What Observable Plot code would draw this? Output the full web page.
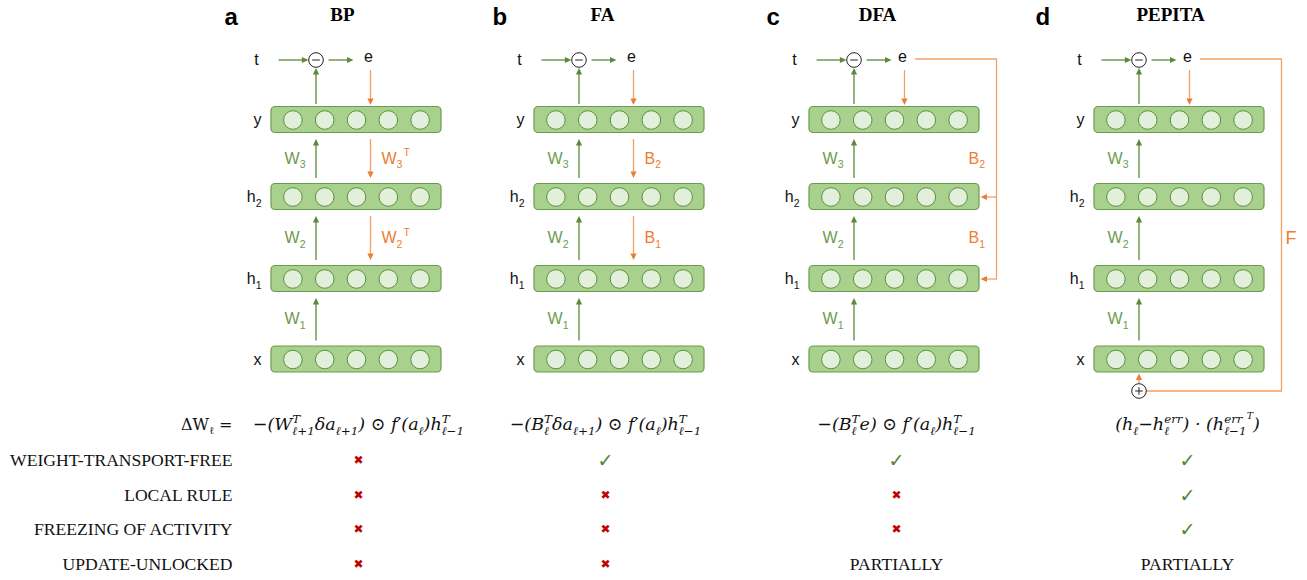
<!DOCTYPE html>
<html>
<head>
<meta charset="utf-8">
<script src="https://cdn.jsdelivr.net/npm/d3@7"></script>
<script src="https://cdn.jsdelivr.net/npm/@observablehq/plot@0.6"></script>
<style>
  html, body { margin: 0; padding: 0; background: #fff; }
  #chart svg { display: block; }
</style>
</head>
<body>
<div id="chart"></div>
<script>
// ---------------- data ----------------
const methods = ["BP", "FA", "DFA", "PEPITA"];
const panelLetters = ["a", "b", "c", "d"];
const layerNames = ["x", "h_{1}", "h_{2}", "y"];
const neuronsPerLayer = [1, 2, 3, 4, 5];
const forwardLabels = ["W_{1}", "W_{2}", "W_{3}"];
const bpBackward = [null, "W_{2}^{T}", "W_{3}^{T}"];
const faBackward = [null, "B_{1}", "B_{2}"];
const dfaBackward = [null, "B_{1}", "B_{2}"];
const pepitaFeedback = ["F"];
const targetLabel = "t";
const errorLabel = "e";
const updateLabel = "ΔW_{ℓ} =";
const updateRules = [
  "−(W_{ℓ+1}^{T}δa_{ℓ+1}) ⊙ f′(a_{ℓ})h_{ℓ−1}^{T}",
  "−(B_{ℓ}^{T}δa_{ℓ+1}) ⊙ f′(a_{ℓ})h_{ℓ−1}^{T}",
  "−(B_{ℓ}^{T}e) ⊙ f′(a_{ℓ})h_{ℓ−1}^{T}",
  "(h_{ℓ}−h_{ℓ}^{err}) · (h_{ℓ−1}^{err}^^{T})"
];
const properties = ["WEIGHT-TRANSPORT-FREE", "LOCAL RULE", "FREEZING OF ACTIVITY", "UPDATE-UNLOCKED"];
const bpSupport = ["no", "no", "no", "no"];
const faSupport = ["yes", "no", "no", "no"];
const dfaSupport = ["yes", "no", "no", "PARTIALLY"];
const pepitaSupport = ["yes", "yes", "yes", "PARTIALLY"];

// ---------------- layout ----------------
const W = 1307, H = 580;
const panelLeft = [271, 534, 809, 1094];
const letterX = [224, 492, 766, 1035];
const titleX = [342, 602, 877, 1170];
const tableX = [358, 605, 896, 1187];
const eOffset = [99, 99, 95, 95];
const boxW = 170, boxH = 26;
const layerY = [359, 278.5, 196.5, 119.5];
const topY = 59.5;
const opX = 44.5;
const neuronStep = 31.8;
const formulaY = 424;
const rowY = [460, 495, 529, 564];
const dfaRailX = 996;
const pepRailX = 1281;
const plusY = 390.5;

const GREEN = "#5a8a3c", GREEN_TXT = "#6d9a4e", ORANGE = "#ed7d31", ORANGE_LINE = "#f3a065";
const supports = [bpSupport, faSupport, dfaSupport, pepitaSupport];
const backwards = [bpBackward, faBackward, dfaBackward, null];

// ---------------- derived geometry ----------------
const boxes = [], neurons = [], layerLbl = [], arrows = [], wLbl = [], oLbl = [];
methods.forEach((m, p) => {
  const L = panelLeft[p], cx = L + boxW / 2, eX = L + eOffset[p];
  layerNames.forEach((name, k) => {
    boxes.push({x1: L, x2: L + boxW, y1: layerY[k] - boxH / 2, y2: layerY[k] + boxH / 2});
    neuronsPerLayer.forEach((n, i) => neurons.push({x: cx + (i - 2) * neuronStep, y: layerY[k]}));
    layerLbl.push({x: L - 10, y: layerY[k], text: name});
  });
  const top = k => layerY[k] - boxH / 2, bot = k => layerY[k] + boxH / 2;
  arrows.push({x1: L + 7, y1: topY, x2: L + opX - 7.6, y2: topY, color: GREEN, dir: "right"});
  arrows.push({x1: L + opX + 12.5, y1: topY, x2: L + 82, y2: topY, color: GREEN, dir: "right"});
  arrows.push({x1: L + opX, y1: top(3) - 3, x2: L + opX, y2: topY + 8, color: GREEN, dir: "up"});
  arrows.push({x1: eX, y1: topY + 10, x2: eX, y2: top(3) - 2, color: ORANGE_LINE, dir: "down"});
  forwardLabels.forEach((w, k) => {
    arrows.push({x1: L + opX, y1: top(k) - 6, x2: L + opX, y2: bot(k + 1) + 6, color: GREEN, dir: "up"});
    wLbl.push({x: L + 34, y: (top(k) + bot(k + 1)) / 2, text: w});
  });
  const bw = backwards[p];
  if (p < 2) {
    [1, 2].forEach(k => {
      arrows.push({x1: eX, y1: bot(k + 1) + 6, x2: eX, y2: top(k) - 6, color: ORANGE_LINE, dir: "down"});
      oLbl.push({x: eX + 11, y: (top(k) + bot(k + 1)) / 2, text: bw[k]});
    });
  } else if (p === 2) {
    [1, 2].forEach(k => {
      arrows.push({x1: dfaRailX, y1: layerY[k], x2: L + boxW + 1, y2: layerY[k], color: ORANGE_LINE, dir: "left"});
      oLbl.push({x: L + 159, y: (top(k) + bot(k + 1)) / 2, text: bw[k]});
    });
  } else {
    arrows.push({x1: L + opX, y1: plusY - 7.5, x2: L + opX, y2: bot(0) + 1, color: ORANGE_LINE, dir: "up"});
    oLbl.push({x: pepRailX + 4, y: (top(1) + bot(2)) / 2 + 0.5, text: pepitaFeedback[0], size: 18});
  }
});

const dfaL = panelLeft[2], pepL = panelLeft[3];
const rails = [
  {x: dfaL + eOffset[2] + 11, y: topY - 1, g: "dfa"}, {x: dfaRailX, y: topY - 1, g: "dfa"}, {x: dfaRailX, y: layerY[1], g: "dfa"},
  {x: pepL + eOffset[3] + 11, y: topY - 1, g: "pep"}, {x: pepRailX, y: topY - 1, g: "pep"},
  {x: pepRailX, y: plusY, g: "pep"}, {x: pepL + opX + 7.3, y: plusY, g: "pep"}
];

const nodes = methods.map((m, p) => ({x: panelLeft[p] + opX, y: topY, kind: "minus"}))
  .concat([{x: pepL + opX, y: plusY, kind: "plus"}]);
const nodeBars = [];
nodes.forEach(n => {
  nodeBars.push({x1: n.x - 3.8, y1: n.y, x2: n.x + 3.8, y2: n.y});
  if (n.kind === "plus") nodeBars.push({x1: n.x, y1: n.y - 3.8, x2: n.x, y2: n.y + 3.8});
});

const shaftEnd = a => {
  const s = 4;
  return a.dir === "up" ? [a.x2, a.y2 + s] : a.dir === "down" ? [a.x2, a.y2 - s]
       : a.dir === "left" ? [a.x2 + s, a.y2] : [a.x2 - s, a.y2];
};
const heads = {
  up:    {draw(c) { c.moveTo(0, 0); c.lineTo(3.1, 6.5); c.lineTo(-3.1, 6.5); c.closePath(); }},
  down:  {draw(c) { c.moveTo(0, 0); c.lineTo(3.1, -6.5); c.lineTo(-3.1, -6.5); c.closePath(); }},
  left:  {draw(c) { c.moveTo(0, 0); c.lineTo(6.5, 3.1); c.lineTo(6.5, -3.1); c.closePath(); }},
  right: {draw(c) { c.moveTo(0, 0); c.lineTo(-6.5, 3.1); c.lineTo(-6.5, -3.1); c.closePath(); }}
};
const headColor = c => c === ORANGE_LINE ? ORANGE : c;

const topTexts = [];
methods.forEach((m, p) => {
  topTexts.push({x: panelLeft[p] - 15, y: topY, text: targetLabel});
  topTexts.push({x: panelLeft[p] + eOffset[p] - 2, y: topY - 3, text: errorLabel});
});

const table = [];
supports.forEach((col, p) => col.forEach((v, r) => table.push({x: tableX[p], y: rowY[r], v})));

// ---------------- plot ----------------
const marks = [
  Plot.rect(boxes, {x1: "x1", x2: "x2", y1: "y1", y2: "y2", fill: "#a9d18e", stroke: "#6b9b4d", strokeWidth: 1.2, rx: 4}),
  Plot.dot(neurons, {x: "x", y: "y", r: 9.3, fill: "#e2efda", stroke: "#5f8f41", strokeWidth: 1}),
  Plot.line(rails, {x: "x", y: "y", z: "g", stroke: ORANGE_LINE, strokeWidth: 1.3}),
  Plot.link(arrows, {x1: "x1", y1: "y1", x2: d => shaftEnd(d)[0], y2: d => shaftEnd(d)[1], stroke: "color", strokeWidth: 1.3}),
  ...Object.keys(heads).map(dir => Plot.dot(arrows.filter(a => a.dir === dir), {
    x: "x2", y: "y2", symbol: heads[dir], r: 3, fill: d => headColor(d.color), stroke: "none"
  })),
  Plot.dot(nodes, {x: "x", y: "y", r: 7.3, fill: "white", stroke: "#222", strokeWidth: 1}),
  Plot.link(nodeBars, {x1: "x1", y1: "y1", x2: "x2", y2: "y2", stroke: "#222", strokeWidth: 1}),
  Plot.text(panelLetters, {x: (d, i) => letterX[i], y: () => 17, text: d => d, textAnchor: "start",
    fontFamily: "Liberation Sans", fontWeight: "bold", fontSize: 24, fill: "#000"}),
  Plot.text(methods, {x: (d, i) => titleX[i], y: () => 14, text: d => d,
    fontFamily: "Liberation Serif", fontWeight: "bold", fontSize: 19, fill: "#000"}),
  Plot.text(layerLbl, {x: "x", y: "y", text: "text", textAnchor: "end",
    fontFamily: "Liberation Sans", fontSize: 16, fill: "#111"}),
  Plot.text(topTexts, {x: "x", y: "y", text: "text",
    fontFamily: "Liberation Sans", fontSize: 16, fill: "#111"}),
  Plot.text(wLbl, {x: "x", y: "y", text: "text", textAnchor: "end",
    fontFamily: "Liberation Sans", fontSize: 16, fill: GREEN_TXT}),
  Plot.text(oLbl.filter(d => !d.size), {x: "x", y: "y", text: "text", textAnchor: "start",
    fontFamily: "Liberation Sans", fontSize: 16, fill: ORANGE}),
  Plot.text(oLbl.filter(d => d.size), {x: "x", y: "y", text: "text", textAnchor: "start",
    fontFamily: "Liberation Sans", fontSize: 18, fill: ORANGE}),
  Plot.text([updateLabel], {x: () => 232, y: () => formulaY, text: d => d, textAnchor: "end",
    fontFamily: "DejaVu Serif", fontSize: 16, fill: "#111"}),
  Plot.text(updateRules, {x: (d, i) => tableX[i], y: () => formulaY, text: d => d,
    fontFamily: "DejaVu Serif", fontStyle: "italic", fontSize: 17.5, fill: "#111"}),
  Plot.text(properties, {x: () => 232, y: (d, i) => rowY[i], text: d => d, textAnchor: "end",
    fontFamily: "Liberation Serif", fontSize: 17.6, fill: "#111"}),
  Plot.text(table.filter(d => d.v === "no"), {x: "x", y: "y", text: () => "✖",
    fontFamily: "DejaVu Sans", fontSize: 12, fill: "#c00000"}),
  Plot.text(table.filter(d => d.v === "yes"), {x: "x", y: "y", text: () => "✓",
    fontFamily: "DejaVu Sans", fontSize: 19, fill: "#548235"}),
  Plot.text(table.filter(d => d.v !== "yes" && d.v !== "no"), {x: "x", y: "y", text: "v",
    fontFamily: "Liberation Serif", fontSize: 17.6, fill: "#111"})
];

const chart = Plot.plot({
  width: W, height: H,
  margin: 0,
  x: {domain: [0, W], range: [0, W], axis: null},
  y: {domain: [0, H], range: [0, H], axis: null},
  color: {type: "identity"},
  style: {background: "#fff", overflow: "visible"},
  marks
});
document.getElementById("chart").appendChild(chart);

// rich text: _{sub} ^{sup} ^^{sup2}; sub/sup stacked only in italic (math) text
const NS = "http://www.w3.org/2000/svg";
function richify(el) {
  const src = el.textContent;
  if (!/[_^]\{/.test(src)) return;
  const cs = getComputedStyle(el);
  const fs = parseFloat(cs.fontSize) || 16;
  const math = cs.fontStyle === "italic";
  const parts = src.split(/(\^\^\{[^}]*\}|_\{[^}]*\}|\^\{[^}]*\})/).filter(s => s !== "");
  el.textContent = "";
  let cur = 0, prev = null, pending = 0;
  for (const p of parts) {
    let type = "n", s = p;
    if (p.startsWith("^^{")) { type = "sup2"; s = p.slice(3, -1); }
    else if (p.startsWith("_{")) { type = "sub"; s = p.slice(2, -1); }
    else if (p.startsWith("^{")) { type = "sup"; s = p.slice(2, -1); }
    const shift = type === "sub" ? 0.3 * fs : type === "sup" ? (math ? -0.42 : -0.45) * fs : type === "sup2" ? -0.62 * fs : 0;
    const size = type === "n" ? fs : type === "sup2" ? 0.55 * fs : (math ? 0.68 : 0.66) * fs;
    const t = document.createElementNS(NS, "tspan");
    t.textContent = s;
    t.setAttribute("font-size", size);
    t.setAttribute("dy", shift - cur);
    cur = shift;
    const stacked = math && prev && ((prev.type === "sub" && type === "sup") || (prev.type === "sup" && type === "sub"));
    let dx = pending; pending = 0;
    if (stacked) dx -= prev.width;
    if (!math && type === "sup" && prev && prev.type === "sub") dx += 1;
    if (dx) t.setAttribute("dx", dx);
    el.appendChild(t);
    const w = t.getComputedTextLength();
    if (stacked) { if (prev.width > w) pending = prev.width - w; prev = {type: "stack", width: 0}; }
    else prev = {type, width: w};
  }
}
chart.querySelectorAll("text").forEach(richify);
</script>
</body>
</html>
